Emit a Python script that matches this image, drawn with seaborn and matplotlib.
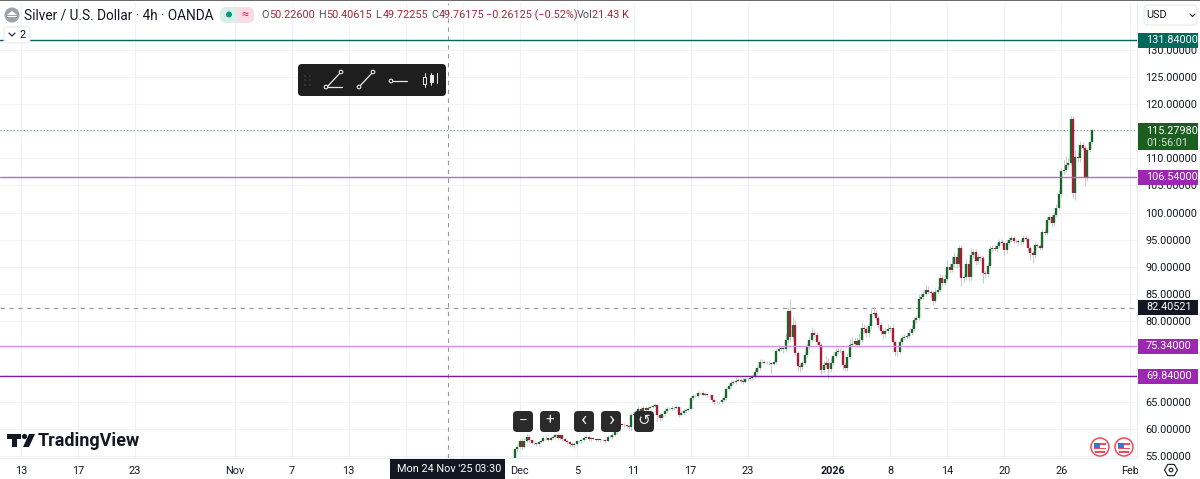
import numpy as np
import pandas as pd
import matplotlib
matplotlib.use("Agg")
import matplotlib.pyplot as plt
import seaborn as sns
from matplotlib.patches import Circle, FancyBboxPatch, Polygon, Rectangle

# 4h closes, left to right
closes = [
    56.4, 56.8, 57.9, 56.8, 57.9, 58.6, 58.0, 57.5, 57.4, 57.3,
    57.6, 57.9, 58.4, 58.4, 58.1, 58.4, 58.6, 59.0, 58.4, 59.0,
    58.2, 57.9, 57.6, 57.3, 57.1, 57.3, 57.9, 57.8, 58.0, 58.4,
    58.6, 58.2, 58.4, 58.2, 58.0, 58.2, 58.0, 58.0, 57.8, 58.6,
    58.6, 59.0, 59.5, 60.3, 61.0, 60.9, 60.8, 60.6, 60.4, 62.6,
    62.9, 63.2, 63.8, 63.4, 64.0, 63.6, 63.9, 64.1, 64.3, 64.5,
    62.7, 62.1, 62.8, 63.4, 63.8, 63.8, 63.9, 64.0, 64.2, 62.7,
    63.0, 63.4, 63.6, 63.8, 65.8, 66.2, 66.2, 66.7, 66.7, 66.4,
    66.5, 66.3, 66.3, 65.4, 65.0, 65.0, 65.0, 65.4, 65.8, 67.5,
    68.0, 68.6, 68.7, 69.0, 69.1, 69.0, 68.8, 69.3, 69.3, 69.5,
    69.9, 70.6, 71.3, 72.5, 72.5, 72.3, 72.3, 72.2, 72.1, 72.5,
    74.5, 74.9, 75.0, 74.9, 76.5, 81.8, 77.0, 79.3, 74.1, 71.7,
    71.5, 72.2, 73.7, 75.2, 76.5, 77.8, 77.4, 76.1, 75.6, 71.0,
    71.9, 72.3, 71.1, 72.3, 73.5, 74.3, 74.5, 74.5, 71.9, 71.3,
    73.3, 75.6, 75.8, 76.3, 75.6, 76.5, 78.7, 78.5, 77.7, 79.0,
    81.3, 81.5, 80.6, 79.3, 78.2, 77.6, 78.2, 78.5, 78.7, 76.1,
    74.3, 74.3, 76.1, 76.8, 77.0, 77.2, 77.8, 78.5, 80.2, 80.6,
    84.1, 84.4, 85.0, 85.7, 85.3, 85.1, 83.7, 85.4, 85.7, 87.9,
    87.0, 87.8, 90.0, 89.4, 90.5, 91.8, 90.5, 93.5, 87.9, 88.1,
    90.5, 88.1, 92.2, 92.7, 91.1, 91.8, 91.6, 88.9, 88.7, 90.1,
    93.3, 93.5, 93.3, 93.8, 94.5, 94.4, 93.1, 94.4, 94.9, 95.3,
    94.8, 94.7, 94.6, 94.6, 95.3, 95.1, 93.5, 92.5, 92.2, 94.0,
    93.8, 93.5, 96.4, 96.3, 98.6, 99.2, 98.1, 99.6, 100.8, 103.4,
    107.7, 107.9, 108.8, 109.1, 117.3, 103.6, 110.3, 110.1, 112.5, 112.0,
    106.6, 111.5, 113.0, 115.3,
]
first_open = 54.7

upper_wick = [
    0.2, 0.3, 0.4, 0.5, 0.5, 0.6, 0.3, 0.2, 0.3, 0.2,
    0.3, 0.3, 0.3, 0.3, 0.2, 0.4, 0.3, 0.4, 0.3, 0.2,
    0.2, 0.3, 0.2, 0.2, 0.3, 0.3, 0.2, 0.2, 0.3, 0.3,
    0.4, 0.3, 0.2, 0.2, 0.2, 0.3, 0.2, 0.2, 0.2, 0.3,
    0.3, 0.3, 0.3, 0.3, 0.3, 0.2, 0.2, 0.2, 0.2, 0.5,
    0.4, 0.4, 0.5, 0.4, 0.3, 0.4, 0.3, 0.3, 0.3, 0.3,
    0.2, 0.3, 0.3, 0.3, 0.4, 0.3, 0.4, 0.3, 0.3, 0.2,
    0.3, 0.3, 0.3, 0.3, 0.4, 0.4, 0.3, 0.4, 0.3, 0.3,
    0.3, 0.2, 0.2, 0.2, 0.2, 0.2, 0.2, 0.3, 0.3, 0.4,
    0.4, 0.5, 0.4, 0.6, 0.3, 0.3, 0.4, 0.3, 0.4, 0.3,
    0.4, 0.5, 0.5, 0.5, 0.5, 0.3, 0.3, 0.3, 0.3, 0.3,
    0.4, 0.4, 0.4, 0.4, 1.2, 0.8, 2.2, 1.5, 0.8, 0.4,
    0.3, 0.5, 0.5, 0.6, 0.8, 1.0, 0.8, 0.5, 0.4, 0.4,
    0.7, 1.2, 0.8, 0.9, 0.6, 0.7, 0.5, 0.5, 0.4, 0.4,
    0.8, 1.0, 1.2, 0.8, 0.7, 1.2, 1.1, 0.7, 0.6, 0.8,
    1.0, 1.0, 0.6, 0.5, 0.5, 0.4, 0.6, 0.9, 0.6, 0.7,
    0.4, 0.3, 0.6, 0.7, 0.6, 0.5, 0.7, 0.7, 0.6, 0.5,
    0.8, 0.8, 0.7, 0.9, 0.8, 0.5, 0.4, 0.7, 0.7, 0.8,
    0.6, 0.8, 1.2, 0.7, 1.4, 1.0, 0.8, 0.5, 0.5, 0.6,
    1.0, 0.7, 1.2, 0.6, 0.5, 0.6, 0.4, 0.5, 0.5, 0.7,
    0.6, 0.5, 0.5, 0.6, 0.7, 0.6, 0.4, 0.6, 0.6, 0.6,
    0.4, 0.4, 0.4, 0.5, 0.5, 0.5, 0.4, 0.4, 0.5, 0.6,
    0.4, 0.4, 0.6, 0.5, 0.6, 0.6, 0.6, 0.5, 0.7, 0.8,
    0.6, 1.8, 1.7, 0.9, 0.5, 0.6, 1.2, 0.8, 0.8, 0.6,
    0.5, 0.4, 0.3, 0.2,
]
lower_wick = [
    0.2, 0.5, 0.3, 0.4, 0.3, 0.3, 0.3, 0.3, 0.3, 0.3,
    0.3, 0.2, 0.3, 0.3, 0.3, 0.2, 0.2, 0.3, 0.3, 0.3,
    0.3, 0.3, 0.3, 0.5, 0.4, 0.5, 0.3, 0.2, 0.3, 0.2,
    0.2, 0.3, 0.3, 0.2, 0.2, 0.2, 0.3, 0.2, 0.3, 0.2,
    0.2, 0.3, 0.3, 0.3, 0.3, 0.3, 0.3, 0.3, 0.4, 0.5,
    0.3, 0.3, 0.4, 0.3, 0.3, 0.3, 0.3, 0.2, 0.2, 0.2,
    1.2, 0.5, 0.3, 0.3, 0.3, 0.3, 0.3, 0.3, 0.3, 0.5,
    0.3, 0.3, 0.3, 0.3, 0.3, 0.3, 0.3, 0.3, 0.2, 0.3,
    0.3, 0.3, 0.3, 0.3, 0.5, 0.3, 0.4, 0.3, 0.3, 0.3,
    0.3, 0.3, 0.3, 0.3, 0.3, 0.4, 0.5, 0.3, 0.3, 0.4,
    0.3, 0.5, 0.4, 0.3, 0.3, 0.3, 0.3, 0.3, 1.9, 0.3,
    0.4, 0.3, 0.4, 0.8, 0.5, 0.5, 0.9, 0.6, 0.4, 1.0,
    0.9, 0.5, 0.4, 0.4, 0.4, 0.3, 0.4, 0.4, 0.4, 0.7,
    0.5, 0.5, 1.7, 0.6, 0.5, 0.4, 0.3, 0.4, 0.9, 0.6,
    0.5, 0.4, 0.4, 0.4, 0.4, 0.3, 0.3, 0.5, 0.6, 0.7,
    0.4, 0.4, 0.4, 0.6, 0.8, 1.0, 0.5, 0.5, 0.5, 0.5,
    0.8, 0.8, 0.4, 0.3, 0.3, 0.3, 0.3, 0.3, 0.3, 0.6,
    0.5, 0.3, 0.4, 0.4, 0.4, 0.6, 0.7, 0.4, 0.4, 0.4,
    0.6, 0.4, 0.5, 0.6, 0.4, 0.5, 0.8, 0.5, 1.5, 0.7,
    0.5, 0.7, 0.5, 0.6, 0.7, 0.5, 0.5, 1.9, 0.7, 0.5,
    0.4, 0.5, 0.4, 0.5, 0.4, 0.4, 0.9, 0.5, 0.4, 0.4,
    0.5, 0.4, 0.5, 0.5, 0.4, 0.4, 0.5, 1.2, 1.5, 0.5,
    0.4, 0.4, 0.4, 0.4, 0.4, 0.5, 0.7, 0.5, 0.5, 0.4,
    0.6, 0.5, 0.4, 0.5, 0.4, 0.9, 1.2, 0.6, 0.8, 0.5,
    1.5, 0.7, 0.4, 0.3,
]

level_prices = [131.84, 106.54, 75.34, 69.84]
level_colors = ["#00695c", "#ba68c8", "#ce93d8", "#7b1fa2"]
tag_colors = ["#00695c", "#9c27b0", "#9c27b0", "#9c27b0"]
last_price = 115.2798
cross_price = 82.40521

price_ticks = [55, 60, 65, 70, 75, 80, 85, 90, 95, 100, 105, 110, 115, 120, 125, 130]
# the two empty labels sit under the crosshair date box
time_ticks = [-208, -184, -160, -118, -94, -70, -46, -22, 2, 26, 50, 74, 98, 134, 158, 182, 206, 230, 259]
time_labels = ["13", "17", "23", "Nov", "7", "13", "", "", "Dec", "5", "11", "17", "23",
               "2026", "8", "14", "20", "26", "Feb"]
cross_bar = -28.2

UP = "#17692b"
DOWN = "#a81c35"
WICK = "#c9cbd1"
INK = "#131722"
GRID = "#f2f3f6"
FONT = "Roboto"
AXIS_SIZE = 7.8

opens = [first_open] + closes[:-1]
bars = np.arange(len(closes))
direction = ["up" if c >= o else "down" for o, c in zip(opens, closes)]
highs = [max(o, c) + w for o, c, w in zip(opens, closes, upper_wick)]
lows = [min(o, c) - w for o, c, w in zip(opens, closes, lower_wick)]

bodies = pd.DataFrame({"bar": np.r_[bars, bars], "price": opens + closes, "dir": direction * 2})
wicks = pd.DataFrame({"bar": np.r_[bars, bars], "price": highs + lows})

sns.set_theme(style="white")
plt.rcParams["font.family"] = [FONT, "DejaVu Sans"]

fig = plt.figure(figsize=(12, 4.79), dpi=100)
ax = fig.add_axes([0, 21 / 479, 1137 / 1200, 455 / 479])
ax.set_xlim(-216.8, 261.9)
ax.set_ylim(54.72, 138.67)

ax.set_axisbelow(True)
ax.set_xticks(time_ticks)
ax.set_xticklabels(time_labels)
ax.set_yticks(price_ticks)
ax.set_yticklabels([f"{p:.5f}" for p in price_ticks])
ax.yaxis.tick_right()
ax.grid(True, color=GRID, lw=0.8)
ax.tick_params(axis="both", length=0, labelsize=AXIS_SIZE, labelcolor=INK)
ax.tick_params(axis="x", pad=6)
ax.tick_params(axis="y", pad=6)
ax.get_xticklabels()[time_labels.index("2026")].set_fontweight("bold")
for side in ["top", "left"]:
    ax.spines[side].set_visible(False)
for side in ["right", "bottom"]:
    ax.spines[side].set_color("#eceef2")
    ax.spines[side].set_linewidth(0.8)

sns.lineplot(data=wicks, x="bar", y="price", units="bar", estimator=None, sort=False,
             color=WICK, lw=0.75, solid_capstyle="butt", ax=ax, legend=False, zorder=3)
sns.lineplot(data=bodies, x="bar", y="price", units="bar", estimator=None, sort=False,
             hue="dir", palette={"up": UP, "down": DOWN}, lw=1.7, solid_capstyle="butt",
             ax=ax, legend=False, zorder=4)
ax.set_xlabel("")
ax.set_ylabel("")

for price, color in zip(level_prices, level_colors):
    ax.axhline(price, color=color, lw=1.0, zorder=5)
ax.axhline(last_price, color="#2e7d32", lw=0.8, ls=(0, (1, 2)), alpha=0.7, zorder=2)
ax.axhline(cross_price, color="#9598a1", lw=0.8, ls=(0, (4, 4)), zorder=2)
ax.axvline(cross_bar, color="#9598a1", lw=0.8, ls=(0, (4, 4)), zorder=2)

# overlay in pixel coordinates for the TradingView chrome
ov = fig.add_axes([0, 0, 1, 1], zorder=10)
ov.set_xlim(0, 1200)
ov.set_ylim(479, 0)
ov.axis("off")
ov.patch.set_alpha(0)


def rounded(x0, y0, x1, y1, color, edge="none", rad=3, z=2):
    ov.add_patch(FancyBboxPatch((x0 + rad, y0 + rad), x1 - x0 - 2 * rad, y1 - y0 - 2 * rad,
                                boxstyle=f"round,pad={rad},rounding_size={rad}",
                                fc=color, ec=edge, lw=0.7, zorder=z))


def label(x, y, s, color=INK, size=AXIS_SIZE, ha="left", weight="normal", z=5):
    ov.text(x, y, s, color=color, fontsize=size, ha=ha, va="center", fontweight=weight, zorder=z)


def stroke(xs, ys, color="#e8e8e8", lw=0.9, z=5):
    ov.plot(xs, ys, color=color, lw=lw, zorder=z, solid_capstyle="round")


# top edge, and the strip that clips the lowest price label
ov.add_patch(Rectangle((0, 0), 1200, 1, fc="#6b6b6b", ec="none"))
ov.add_patch(Rectangle((1138, 460), 62, 19, fc="white", ec="none", zorder=1))

# legend row
ov.add_patch(Circle((12, 15), 7.5, fc="#9ea2ad", ec="none", zorder=3))
ov.add_patch(Polygon([[7, 15], [12, 11], [17, 15]], fc="white", ec="none", zorder=4))
ov.add_patch(Rectangle((7, 16), 10, 1.3, fc="white", ec="none", zorder=4))
label(24, 15, "Silver / U.S. Dollar · 4h · OANDA", size=9.8)
rounded(220, 7, 238, 23, "#d7f0ea", rad=6)
rounded(236, 7, 254, 23, "#fcdbe5", rad=6)
ov.add_patch(Rectangle((232, 7), 5, 16, fc="#d7f0ea", ec="none", zorder=3))
ov.add_patch(Rectangle((237, 7), 5, 16, fc="#fcdbe5", ec="none", zorder=3))
ov.add_patch(Circle((229, 14.5), 3, fc="#089981", ec="none", zorder=4))
label(245, 14.5, "≈", color="#e91e63", size=9, ha="center")
for x, key, val in [(261, "O", "50.22600"), (318, "H", "50.40615"), (375, "L", "49.72255"), (431, "C", "49.76175")]:
    label(x, 15, key, color="#50535e")
    label(x + 8, 15, val, color="#a3273a")
label(486, 15, "−0.26125 (−0.52%)", color="#a3273a")
label(577, 15, "Vol", color="#50535e")
label(592, 15, "21.43 K", color="#a3273a")

rounded(4, 27, 30, 43, "white", edge="#e6e8ec", rad=3)
stroke([9, 12, 15], [33, 36, 33], color=INK, lw=0.8)
label(19, 35, "2")

rounded(1144, 5, 1197, 25, "white", edge="#e6e8ec", rad=4)
label(1146, 15, "USD")
stroke([1190, 1192.5, 1195], [14, 16.5, 14], color=INK, lw=0.8)

# price tags on the axis
for price, color, y in zip(level_prices, tag_colors, [40, 177.5, 346, 376]):
    ov.add_patch(Rectangle((1138, y - 7.5), 60, 15, fc=color, ec="none", zorder=3))
    label(1146, y, f"{price:.5f}", color="white", z=4)
ov.add_patch(Rectangle((1138, 123), 60, 27, fc="#1b5e20", ec="none", zorder=3))
label(1146, 130.5, f"{last_price:.5f}", color="white", z=4)
label(1146, 143, "01:56:01", color="#d7e6d8", z=4)
ov.add_patch(Rectangle((1138, 300), 60, 15, fc=INK, ec="none", zorder=3))
label(1146, 307.5, f"{cross_price:.5f}", color="white", z=4)

# crosshair date
ov.add_patch(Rectangle((390, 459), 115, 20, fc=INK, ec="none", zorder=3))
label(397, 469.5, "Mon 24 Nov '25", color="white", z=4)
label(474, 469.5, "03:30", color="white", z=4)

# drawing toolbar
rounded(298, 64, 446, 96, "#1e1e1e", rad=4)
for gx in [305, 310]:
    for gy in [76, 80, 85]:
        ov.add_patch(Circle((gx, gy), 0.6, fc="#666666", ec="none", zorder=4))
stroke([327, 341], [87, 72])
stroke([327, 342], [87, 87])
stroke([359, 373], [87, 72])
stroke([391, 407], [81, 81])
for cx, cy in [(326, 87), (341, 72), (359, 87), (373, 72), (391, 81)]:
    ov.add_patch(Circle((cx, cy), 1.8, fc="#1e1e1e", ec="#e8e8e8", lw=0.8, zorder=6))
for cx, y0, y1 in [(424.5, 73, 87), (431, 73, 85), (437, 73, 83)]:
    stroke([cx, cx], [y0, y1], lw=0.7)
ov.add_patch(Rectangle((423, 77), 3, 7, fc="#1e1e1e", ec="#e8e8e8", lw=0.7, zorder=6))
ov.add_patch(Rectangle((429.5, 75), 3, 7, fc="#e8e8e8", ec="#e8e8e8", lw=0.7, zorder=6))

# zoom and scroll buttons
for x0, sym, size in [(513, "−", 11), (540, "+", 11), (574, "‹", 15), (601, "›", 15), (634, "↺", 11)]:
    rounded(x0, 411, x0 + 20, 432, "#2a2a2a", rad=4, z=6)
    ov.text(x0 + 10, 420.5, sym, color="#e8e8e8", fontsize=size, ha="center", va="center", zorder=7)

# logo
ov.add_patch(Polygon([[7, 434], [21, 434], [21, 439], [17, 439], [17, 447], [12, 447], [12, 439], [7, 439]],
                     fc=INK, ec="none"))
ov.add_patch(Circle((24.5, 436.5), 2.6, fc=INK, ec="none"))
ov.add_patch(Polygon([[29, 434], [35, 434], [29, 447], [23, 447]], fc=INK, ec="none"))
label(38, 441, "TradingView", size=13, weight="bold")

# event flags
for fx in [1100, 1124]:
    ov.add_patch(Circle((fx, 447), 9, fc="white", ec="#f04b57", lw=1.1, zorder=3))
    ov.add_patch(Rectangle((fx - 6, 443), 6, 4.5, fc="#3f6fd8", ec="none", zorder=4))
    ov.add_patch(Rectangle((fx - 6, 447.5), 12, 1.8, fc="#f04b57", ec="none", zorder=4))
    ov.add_patch(Rectangle((fx - 5, 451), 10, 1.8, fc="#f04b57", ec="none", zorder=4))
    ov.add_patch(Rectangle((fx, 443), 6, 1.8, fc="#f04b57", ec="none", zorder=4))

# settings icon
ang = np.deg2rad(np.arange(0, 360, 60))
ov.add_patch(Polygon(np.c_[1171 + 6.5 * np.cos(ang), 470 + 6.5 * np.sin(ang)], fc="white", ec=INK, lw=0.8))
ov.add_patch(Circle((1171, 470), 1.8, fc="white", ec=INK, lw=0.8))

fig.savefig("out.png", dpi=100)
